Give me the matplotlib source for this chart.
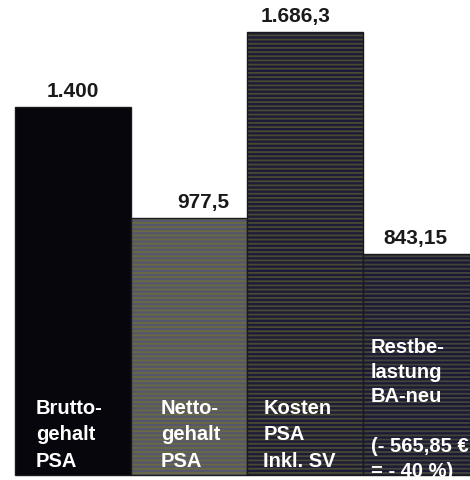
import matplotlib
matplotlib.use("Agg")
import matplotlib.pyplot as plt

# values per bar (EUR)
categories = ["Bruttogehalt PSA", "Nettogehalt PSA", "Kosten PSA inkl. SV", "Restbelastung BA-neu"]
values = [1400.0, 977.5, 1686.3, 843.15]
value_labels = ["1.400", "977,5", "1.686,3", "843,15"]
inner_labels = [
    "Brutto-\ngehalt\nPSA",
    "Netto-\ngehalt\nPSA",
    "Kosten\nPSA\nInkl. SV",
    "Restbe-\nlastung\nBA-neu\n\n(- 565,85 €\n= - 40 %)",
]

face_colors = ["#06060c", "#56566e", "#1c1c38", "#1a1a36"]
hatch_colors = ["#0c0c14", "#6a6a40", "#4a4a32", "#44443a"]
hatches = [None, "----", "----", "----"]

# label placement (points / data units)
label_dx = [0, 10, -7, -4]
inner_dx = [0.18, 0.26, 0.14, 0.07]
inner_top = [295, 295, 295, 525]
inner_spacing = [1.5, 1.5, 1.5, 1.38]

plt.rcParams["font.family"] = ["Liberation Sans", "DejaVu Sans"]
plt.rcParams["hatch.linewidth"] = 1.3

fig = plt.figure(figsize=(4.7, 4.81), dpi=100)
ax = fig.add_axes([0, 0, 1, 1])

for i, v in enumerate(values):
    ax.bar(i, v, width=1.0, color=face_colors[i], hatch=hatches[i],
           edgecolor=hatch_colors[i], linewidth=0)
    ax.bar(i, v, width=1.0, fill=False, edgecolor="#1a1a1a", linewidth=1.0)

for i, v in enumerate(values):
    ax.annotate(value_labels[i], xy=(i, v), xytext=(label_dx[i], 5),
                textcoords="offset points", ha="center", va="bottom",
                fontsize=15, fontweight="bold", color="#1a1a1a",
                bbox=dict(facecolor="white", edgecolor="none", pad=1))
    ax.text(i - 0.5 + inner_dx[i], inner_top[i], inner_labels[i],
            ha="left", va="top", fontsize=14.5, fontweight="bold",
            color="white", linespacing=inner_spacing[i])

ax.set_xlim(-0.629, 3.423)
ax.set_ylim(-19, 1812)
ax.axis("off")

fig.savefig("out.png", dpi=100, facecolor="white")
